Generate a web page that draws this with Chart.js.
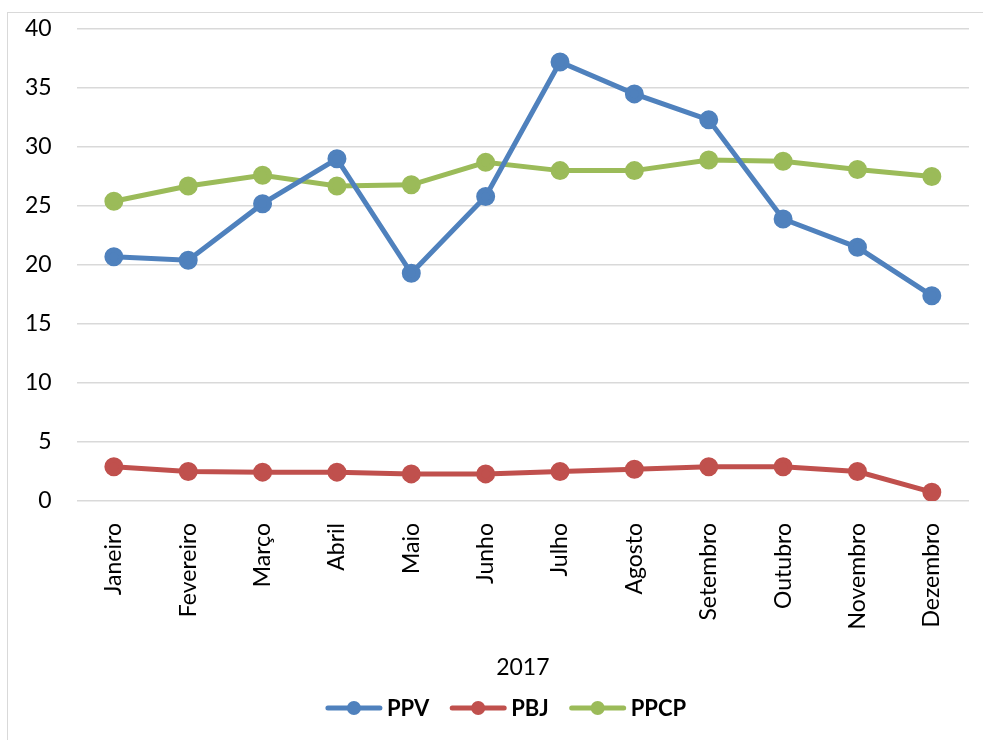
<!DOCTYPE html>
<html>
<head>
<meta charset="utf-8">
<script src="https://cdn.jsdelivr.net/npm/chart.js@4.4.0/dist/chart.umd.min.js"></script>
<style>
  html, body { margin: 0; padding: 0; background: #fff; }
  #wrap { position: relative; width: 983px; height: 740px; overflow: hidden; }
  #frame { position: absolute; left: 7px; top: 12px; width: 1000px; height: 800px; border: 1.5px solid #d9d9d9; box-sizing: border-box; }
  canvas { position: absolute; left: 0; top: 0; }
</style>
</head>
<body>
<div id="wrap">
  <div id="frame"></div>
  <canvas id="myChart" width="983" height="740"></canvas>
</div>
<script>
const months = ["Janeiro", "Fevereiro", "Março", "Abril", "Maio", "Junho", "Julho", "Agosto", "Setembro", "Outubro", "Novembro", "Dezembro"];
const ppv = [20.7, 20.4, 25.2, 29.0, 19.3, 25.8, 37.2, 34.5, 32.3, 23.9, 21.5, 17.4];
const pbj = [2.9, 2.5, 2.45, 2.45, 2.3, 2.3, 2.5, 2.7, 2.9, 2.9, 2.5, 0.75];
const ppcp = [25.4, 26.7, 27.6, 26.7, 26.8, 28.7, 28.0, 28.0, 28.9, 28.8, 28.1, 27.5];

const font = "Lato, 'Open Sans', sans-serif";

// legend with line + dot, like the office one
const lineLegend = {
    id: 'lineLegend',
    afterDraw(chart) {
        const c = chart.ctx;
        const sets = chart.data.datasets;
        c.save();
        c.font = "bold 22px " + font;
        c.textBaseline = 'middle';
        const lineW = 56, gap = 5, spacing = 21;
        let total = 0;
        sets.forEach(d => { total += lineW + gap + c.measureText(d.label).width; });
        total += spacing * (sets.length - 1);
        let x = 506 - total / 2;
        const y = 708;
        sets.forEach(d => {
            c.strokeStyle = d.borderColor;
            c.lineWidth = 5;
            c.lineCap = 'round';
            c.beginPath();
            c.moveTo(x + 2, y);
            c.lineTo(x + lineW - 2, y);
            c.stroke();
            c.fillStyle = d.borderColor;
            c.beginPath();
            c.arc(x + lineW / 2, y, 7, 0, Math.PI * 2);
            c.fill();
            c.fillStyle = '#000';
            c.fillText(d.label, x + lineW + gap, y + 1);
            x += lineW + gap + c.measureText(d.label).width + spacing;
        });
        c.restore();
    }
};

const ctx = document.getElementById('myChart');

new Chart(ctx, {
    type: 'line',
    data: {
        labels: months,
        datasets: [{
            label: 'PPV',
            data: ppv,
            borderColor: '#4f81bd',
            backgroundColor: '#4f81bd',
            borderWidth: 5,
            pointRadius: 7,
            pointHoverRadius: 7,
            tension: 0
        }, {
            label: 'PBJ',
            data: pbj,
            borderColor: '#c0504d',
            backgroundColor: '#c0504d',
            borderWidth: 5,
            pointRadius: 7,
            pointHoverRadius: 7,
            tension: 0
        }, {
            label: 'PPCP',
            data: ppcp,
            borderColor: '#9bbb59',
            backgroundColor: '#9bbb59',
            borderWidth: 5,
            pointRadius: 7,
            pointHoverRadius: 7,
            tension: 0
        }]
    },
    options: {
        responsive: false,
        animation: false,
        layout: {
            padding: { left: 0, right: 14, top: 0, bottom: 59 }
        },
        scales: {
            x: {
                offset: true,
                grid: { display: false },
                border: { display: false },
                ticks: {
                    color: '#000',
                    font: { family: font, size: 23 },
                    minRotation: 90,
                    maxRotation: 90,
                    padding: 14
                },
                title: {
                    display: true,
                    text: '2017',
                    color: '#000',
                    font: { family: font, size: 23 },
                    padding: { top: 10, bottom: 0 }
                }
            },
            y: {
                min: 0,
                max: 40,
                // tick padding also pushes the top down, so set it back
                afterFit: function(scale) {
                    scale.paddingTop = 29;
                },
                grid: {
                    color: '#d9d9d9',
                    lineWidth: 1.5,
                    drawTicks: false
                },
                border: { display: false },
                ticks: {
                    stepSize: 5,
                    color: '#000',
                    font: { family: font, size: 23 },
                    padding: 25
                }
            }
        },
        plugins: {
            legend: { display: false },
            tooltip: { enabled: false }
        }
    },
    plugins: [lineLegend]
});
</script>
</body>
</html>
